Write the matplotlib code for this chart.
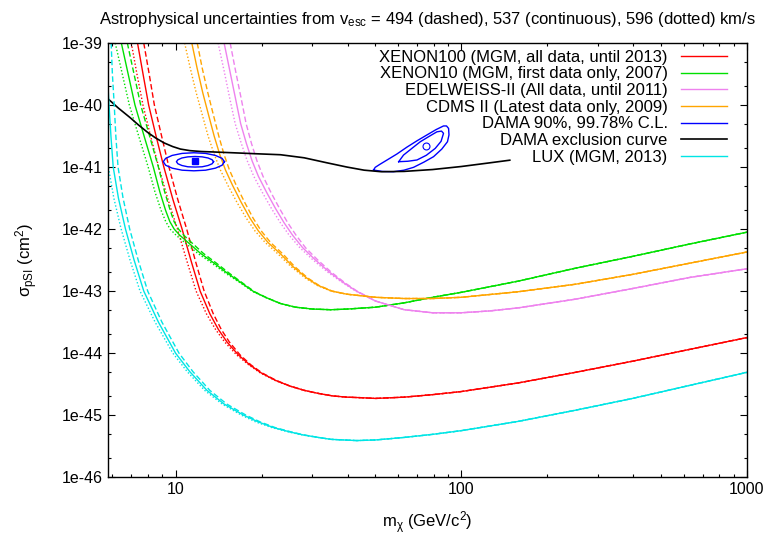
import numpy as np
import matplotlib
matplotlib.use("Agg")
import matplotlib.pyplot as plt
from matplotlib.ticker import FixedLocator, LogLocator, FuncFormatter, NullFormatter

plt.rcParams['font.family'] = ['Liberation Sans', 'DejaVu Sans']
plt.rcParams['mathtext.fontset'] = 'custom'
plt.rcParams['mathtext.rm'] = 'Liberation Sans'
plt.rcParams['mathtext.it'] = 'Liberation Sans'

# each experiment: one sigma list (cm^2) and one mass list (GeV) per v_esc
# 494 km/s -> dashed, 537 km/s -> continuous, 596 km/s -> dotted

# XENON100
sig_x100 = [1e-39, 3e-40, 1e-40, 3e-41, 1e-41, 3e-42, 1e-42, 3e-43, 1e-43, 4.32e-44, 2.40e-44, 1.51e-44,
            9.33e-45, 6.46e-45, 4.79e-45, 3.63e-45, 2.95e-45, 2.51e-45, 2.24e-45, 2.04e-45, 1.95e-45,
            1.91e-45, 1.86e-45, 1.95e-45, 2.14e-45, 2.4e-45, 3.31e-45, 4.9e-45, 7.41e-45, 1.15e-44, 1.78e-44]
m_x100_537 = [7.36, 7.71, 8.05, 8.57, 9.10, 9.79, 10.54, 11.35, 12.19, 13.18, 14.13, 15.14, 16.6, 18.2,
              19.95, 22.4, 25.1, 28.2, 31.6, 35.5, 39.8, 44.7, 50.1, 63.1, 79.4, 100, 158.5, 251, 398, 631, 1000]
m_x100_494 = [7.74, 8.10, 8.43, 8.96, 9.48, 10.18, 10.94, 11.75, 12.59, 13.55, 14.46, 15.43, 16.83, 18.36,
              20.09, 22.51, 25.15, 28.2, 31.6, 35.5, 39.8, 44.7, 50.1, 63.1, 79.4, 100, 158.5, 251, 398, 631, 1000]
m_x100_596 = [7.00, 7.34, 7.69, 8.20, 8.73, 9.41, 10.15, 10.97, 11.80, 12.82, 13.81, 14.86, 16.37, 18.04,
              19.81, 22.29, 25.05, 28.2, 31.6, 35.5, 39.8, 44.7, 50.1, 63.1, 79.4, 100, 158.5, 251, 398, 631, 1000]

# XENON10
sig_x10 = [1e-39, 1e-40, 3.16e-41, 1e-41, 3.98e-42, 2.0e-42, 1.32e-42, 1.0e-42, 7.94e-43, 6.31e-43,
           4.07e-43, 2.82e-43, 1.95e-43, 1.38e-43, 9.77e-44, 7.76e-44, 6.31e-44, 5.5e-44, 5.13e-44,
           5.01e-44, 5.13e-44, 5.50e-44, 6.46e-44, 7.94e-44, 9.55e-44, 1.45e-43, 2.34e-43, 3.63e-43,
           5.75e-43, 8.91e-43]
m_x10_537 = [6.46, 7.21, 7.76, 8.36, 8.81, 9.23, 9.55, 9.89, 10.35, 10.96, 12.22, 13.65, 15.17, 16.9,
             18.79, 20.9, 23.28, 26.3, 30.2, 35.0, 39.8, 50.1, 63.1, 79.4, 100, 158.5, 251, 398, 631, 1000]
m_x10_494 = [6.78, 7.55, 8.11, 8.71, 9.16, 9.58, 9.88, 10.24, 10.69, 11.27, 12.5, 13.9, 15.4, 17.05,
             18.9, 20.9, 23.3, 26.3, 30.2, 35.0, 39.8, 50.1, 63.1, 79.4, 100, 158.5, 251, 398, 631, 1000]
m_x10_596 = [6.15, 6.89, 7.43, 8.02, 8.47, 8.90, 9.24, 9.57, 10.05, 10.66, 11.95, 13.4, 14.95, 16.75,
             18.7, 20.8, 23.3, 26.3, 30.2, 35.0, 39.8, 50.1, 63.1, 79.4, 100, 158.5, 251, 398, 631, 1000]

# EDELWEISS-II
sig_edw = [1e-39, 3.55e-40, 1.26e-40, 5.01e-41, 2.40e-41, 1.26e-41, 7.08e-42, 3.80e-42, 2.14e-42,
           1.26e-42, 7.94e-43, 5.01e-43, 3.16e-43, 2.0e-43, 1.35e-43, 1.0e-43, 6.92e-44, 5.01e-44,
           4.47e-44, 4.47e-44, 4.79e-44, 5.37e-44, 7.41e-44, 1.10e-43, 1.66e-43, 2.29e-43]
m_edw_537 = [14.79, 15.49, 16.22, 16.9, 17.7, 18.53, 19.5, 20.9, 22.39, 23.99, 25.7, 27.86, 30.9,
             34.67, 38.9, 42.95, 50.1, 63.1, 79.4, 100, 125.9, 158.5, 251, 398, 631, 1000]
m_edw_494 = [15.53, 16.22, 16.98, 17.66, 18.44, 19.27, 20.24, 21.63, 23.13, 24.71, 26.42, 28.5, 31.49,
             35.16, 39.25, 43.16, 50.1, 63.1, 79.4, 100, 125.9, 158.5, 251, 398, 631, 1000]
m_edw_596 = [14.09, 14.79, 15.49, 16.17, 16.99, 17.82, 18.79, 20.19, 21.67, 23.29, 25.0, 27.23, 30.32,
             34.19, 38.55, 42.74, 50.1, 63.1, 79.4, 100, 125.9, 158.5, 251, 398, 631, 1000]

# CDMS II
sig_cdms = [1e-39, 3.98e-40, 1.58e-40, 7.08e-41, 3.16e-41, 1.58e-41, 8.91e-42, 5.01e-42, 2.69e-42,
            1.51e-42, 9.33e-43, 6.03e-43, 3.98e-43, 2.51e-43, 1.62e-43, 1.23e-43, 1.0e-43, 8.91e-44,
            7.94e-44, 7.59e-44, 7.59e-44, 7.94e-44, 9.77e-44, 1.29e-43, 1.86e-43, 2.82e-43, 4.27e-43]
m_cdms_537 = [11.40, 11.89, 12.45, 13.03, 13.65, 14.29, 14.96, 15.85, 16.98, 18.2, 19.5, 21.1, 23.3,
              25.7, 28.8, 31.6, 35.2, 39.8, 50.1, 63.1, 79.4, 100, 158.5, 251, 398, 631, 1000]
m_cdms_494 = [11.91, 12.39, 12.97, 13.55, 14.17, 14.79, 15.45, 16.33, 17.46, 18.67, 19.95, 21.54, 23.74,
              26.06, 29.06, 31.82, 35.38, 39.8, 50.1, 63.1, 79.4, 100, 158.5, 251, 398, 631, 1000]
m_cdms_596 = [10.76, 11.25, 11.81, 12.39, 13.0, 13.67, 14.36, 15.27, 16.41, 17.67, 18.97, 20.63, 22.82,
              25.3, 28.46, 31.38, 35.02, 39.8, 50.1, 63.1, 79.4, 100, 158.5, 251, 398, 631, 1000]

# LUX
sig_lux = [1e-39, 3.16e-40, 1e-40, 3.16e-41, 1e-41, 3.16e-42, 1e-42, 3.16e-43, 1e-43, 3.16e-44, 1e-44,
           5.01e-45, 2.51e-45, 1.51e-45, 1e-45, 7.76e-46, 6.31e-46, 5.37e-46, 4.79e-46, 4.37e-46,
           4.07e-46, 3.89e-46, 3.98e-46, 4.37e-46, 4.90e-46, 5.62e-46, 7.94e-46, 1.20e-45, 1.86e-45,
           3.02e-45, 4.90e-45]
m_lux_537 = [5.71, 5.77, 5.85, 5.94, 6.05, 6.31, 6.68, 7.16, 7.74, 8.71, 10.0, 11.22, 12.88, 14.79, 17.3,
             19.5, 22.0, 25.1, 28.0, 31.6, 35.0, 43.1, 50.1, 63.1, 79.4, 100, 158.5, 251, 398, 631, 1000]
m_lux_494 = [5.95, 6.01, 6.10, 6.18, 6.29, 6.55, 6.91, 7.40, 7.99, 8.96, 10.28, 11.51, 13.18, 15.11, 17.64,
             19.8, 22.3, 25.35, 28.2, 31.7, 35.0, 43.1, 50.1, 63.1, 79.4, 100, 158.5, 251, 398, 631, 1000]
m_lux_596 = [5.48, 5.54, 5.61, 5.71, 5.82, 6.08, 6.45, 6.93, 7.51, 8.48, 9.78, 10.99, 12.64, 14.56, 17.0,
             19.1, 21.7, 24.8, 27.8, 31.5, 35.0, 43.1, 50.1, 63.1, 79.4, 100, 158.5, 251, 398, 631, 1000]

# DAMA exclusion curve
m_dama_excl = [5.8, 6.31, 6.92, 7.41, 7.98, 8.51, 9.12, 9.77, 10.4, 11.22, 12.3, 13.6, 15.85, 19.05,
               23.3, 28.2, 33.9, 39.8, 45.7, 52.5, 63.1, 79.4, 100, 125.9, 147.9]
sig_dama_excl = [1.26e-40, 8.91e-41, 6.31e-41, 4.79e-41, 3.63e-41, 2.95e-41, 2.45e-41, 2.14e-41, 1.95e-41,
                 1.84e-41, 1.78e-41, 1.75e-41, 1.70e-41, 1.64e-41, 1.58e-41, 1.41e-41, 1.17e-41, 1.0e-41,
                 8.91e-42, 8.41e-42, 8.51e-42, 9.12e-42, 1.02e-41, 1.17e-41, 1.29e-41]

# DAMA 90% / 99.78% C.L. regions (low and high mass islands)
m_dama_lo_out = [14.83, 14.55, 13.79, 12.74, 11.59, 10.54, 9.73, 9.23, 9.06, 9.23, 9.73, 10.54, 11.59, 12.74, 13.79, 14.55, 14.83]
s_dama_lo_out = [1.22e-41, 1.38e-41, 1.54e-41, 1.66e-41, 1.70e-41, 1.66e-41, 1.54e-41, 1.38e-41, 1.22e-41,
                 1.07e-41, 9.6e-42, 8.9e-42, 8.7e-42, 8.9e-42, 9.6e-42, 1.07e-41, 1.22e-41]
m_dama_lo_in = [13.58, 13.43, 13.0, 12.39, 11.7, 11.04, 10.52, 10.19, 10.07, 10.19, 10.52, 11.04, 11.7, 12.39, 13.0, 13.43, 13.58]
s_dama_lo_in = [1.22e-41, 1.31e-41, 1.40e-41, 1.46e-41, 1.48e-41, 1.46e-41, 1.40e-41, 1.31e-41, 1.22e-41,
                1.13e-41, 1.06e-41, 1.01e-41, 1.0e-41, 1.01e-41, 1.06e-41, 1.13e-41, 1.22e-41]
m_dama_hi_out = [49.3, 53.0, 57.9, 63.0, 68.1, 74.0, 80.0, 85.5, 89.5, 90.6, 90.3, 88.8, 86.7, 81.5,
                 75.9, 70.0, 64.6, 59.5, 55.0, 51.8, 50.0, 49.3]
s_dama_hi_out = [8.95e-42, 8.5e-42, 8.4e-42, 8.9e-42, 9.9e-42, 1.2e-41, 1.47e-41, 1.95e-41, 2.56e-41,
                 3.3e-41, 4.2e-41, 4.6e-41, 4.6e-41, 4.0e-41, 3.3e-41, 2.65e-41, 2.1e-41, 1.62e-41,
                 1.3e-41, 1.1e-41, 9.9e-42, 8.95e-42]
m_dama_hi_in = [60.4, 65.0, 70.0, 75.5, 81.1, 85.0, 86.7, 85.3, 82.2, 77.0, 71.9, 67.0, 62.8, 60.4]
s_dama_hi_in = [1.22e-41, 1.24e-41, 1.3e-41, 1.55e-41, 2.0e-41, 2.6e-41, 3.5e-41, 3.8e-41, 3.7e-41,
                3.1e-41, 2.56e-41, 1.98e-41, 1.56e-41, 1.22e-41]
m_dama_best = [11.7, 75]
s_dama_best = [1.23e-41, 2.2e-41]

fig = plt.figure(figsize=(7.74, 5.41), dpi=100)
ax = fig.add_axes([0.1395, 0.118, 0.8255, 0.8025])

FS = 11.5

def three(sig, md, ms, mt, col, label):
    ax.plot(md, sig, color=col, lw=1.0, ls=(0, (4, 2)))
    ax.plot(mt, sig, color=col, lw=1.0, ls=(0, (1, 1.5)))
    ax.plot(ms, sig, color=col, lw=1.0, label=label)

three(sig_x100, m_x100_494, m_x100_537, m_x100_596, '#ff0000', 'XENON100 (MGM, all data, until 2013)')
three(sig_x10, m_x10_494, m_x10_537, m_x10_596, '#00e000', 'XENON10 (MGM, first data only, 2007)')
three(sig_edw, m_edw_494, m_edw_537, m_edw_596, '#ee82ee', 'EDELWEISS-II (All data, until 2011)')
three(sig_cdms, m_cdms_494, m_cdms_537, m_cdms_596, '#ffa500', 'CDMS II (Latest data only, 2009)')

ax.plot(m_dama_lo_out, s_dama_lo_out, color='#0000ff', lw=1.0, label='DAMA 90%, 99.78% C.L.')
ax.plot(m_dama_lo_in, s_dama_lo_in, color='#0000ff', lw=1.0)
ax.plot(m_dama_hi_out, s_dama_hi_out, color='#0000ff', lw=1.0)
ax.plot(m_dama_hi_in, s_dama_hi_in, color='#0000ff', lw=1.0)
ax.plot(m_dama_best[:1], s_dama_best[:1], 's', color='#0000ff', ms=4)
ax.plot(m_dama_best[1:], s_dama_best[1:], 'o', mfc='none', mec='#0000ff', ms=5, mew=0.8)

ax.plot(m_dama_excl, sig_dama_excl, color='black', lw=1.2, label='DAMA exclusion curve')
three(sig_lux, m_lux_494, m_lux_537, m_lux_596, '#00e5e5', 'LUX (MGM, 2013)')

ax.set_xscale('log')
ax.set_yscale('log')
ax.set_xlim(5.8, 1000)
ax.set_ylim(1e-46, 1e-39)

ax.yaxis.set_major_locator(FixedLocator([1e-46, 1e-45, 1e-44, 1e-43, 1e-42, 1e-41, 1e-40, 1e-39]))
ax.yaxis.set_minor_locator(LogLocator(base=10, subs=(2, 5), numticks=20))
ax.yaxis.set_major_formatter(FuncFormatter(lambda v, p: '1e%d' % round(np.log10(v))))
ax.yaxis.set_minor_formatter(NullFormatter())
ax.xaxis.set_major_locator(FixedLocator([10, 100, 1000]))
ax.xaxis.set_minor_locator(LogLocator(base=10, subs=np.arange(2, 10), numticks=20))
ax.xaxis.set_major_formatter(FuncFormatter(lambda v, p: '%d' % round(v)))
ax.xaxis.set_minor_formatter(NullFormatter())
ax.tick_params(which='both', direction='in', top=True, right=True, labelsize=FS)
ax.tick_params(which='major', length=5, width=0.8)
ax.tick_params(which='minor', length=2.5, width=0.8)
for s in ax.spines.values():
    s.set_linewidth(1.0)

ax.set_xlabel(r'm$_\chi$ (GeV/c$^2$)', fontsize=12, labelpad=9)
ax.set_ylabel(r'$\sigma_{\rm pSI}$ (cm$^2$)', fontsize=12, labelpad=16)
ax.set_title(r'Astrophysical uncertainties from v$_{\rm esc}$ = 494 (dashed), 537 (continuous), 596 (dotted) km/s',
             fontsize=12, pad=14)

ax.legend(loc='upper right', bbox_to_anchor=(0.979, 1.0), frameon=False, fontsize=12, markerfirst=False,
          handlelength=2.75, handletextpad=0.8, labelspacing=0.1, borderaxespad=0.0, borderpad=0.4)

fig.savefig('out.png', dpi=100)
